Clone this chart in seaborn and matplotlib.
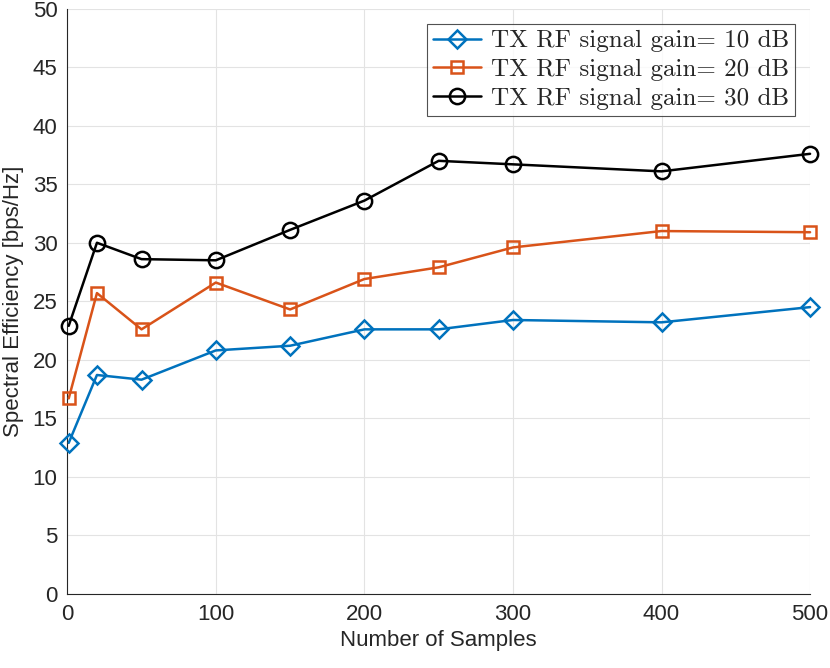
import pandas as pd
import matplotlib
matplotlib.use("Agg")
import matplotlib.pyplot as plt
import seaborn as sns

samples = [1, 20, 50, 100, 150, 200, 250, 300, 400, 500]
gain_10 = [12.9, 18.7, 18.3, 20.8, 21.2, 22.6, 22.6, 23.4, 23.2, 24.5]
gain_20 = [16.7, 25.7, 22.6, 26.6, 24.3, 26.9, 27.9, 29.6, 31.0, 30.9]
gain_30 = [22.9, 30.0, 28.6, 28.5, 31.1, 33.6, 37.0, 36.7, 36.1, 37.6]
gains = ["10", "20", "30"]

rows = []
for g, vals in zip(gains, [gain_10, gain_20, gain_30]):
    for x, y in zip(samples, vals):
        rows.append({"Samples": x, "SE": y, "Gain": g})
df = pd.DataFrame(rows)

sns.set_style("white")
plt.rcParams["font.family"] = ["Liberation Sans Narrow", "Liberation Sans", "DejaVu Sans"]

colores = {"10": "#0072BD", "20": "#D95319", "30": "#000000"}
marcadores = {"10": "D", "20": "s", "30": "o"}
tamanos = {"10": 9.5, "20": 9, "30": 11}

fig = plt.figure(figsize=(8.3, 6.68), dpi=100)
ax = fig.add_axes([0.081, 0.111, 0.895, 0.876])

sns.lineplot(data=df, x="Samples", y="SE", hue="Gain", style="Gain",
             palette=colores, markers=marcadores, dashes=False,
             linewidth=1.8, legend=False, ax=ax)

for line, g in zip(ax.lines, gains):
    line.set_markerfacecolor("none")
    line.set_markeredgecolor(colores[g])
    line.set_markeredgewidth(1.8)
    line.set_markersize(tamanos[g])
    line.set_clip_on(False)
    line.set_zorder(3)

etiquetas = ["TX RF signal gain= %s dB" % g for g in gains]
leg = ax.legend(ax.lines, etiquetas, loc="upper right",
                prop={"family": "cmr10", "size": 18},
                frameon=True, fancybox=False, borderaxespad=0.6,
                handlelength=1.9, handletextpad=0.4, borderpad=0.25,
                labelspacing=0.25)
leg.get_frame().set_edgecolor("#262626")
leg.get_frame().set_linewidth(0.8)
leg.set_zorder(5)

ax.set_xlim(0, 500)
ax.set_ylim(0, 50)
ax.set_xticks(range(0, 501, 100))
ax.set_yticks(range(0, 51, 5))
ax.grid(True, color="#e3e3e3", linewidth=0.8)
ax.set_axisbelow(True)
for s in ["top", "right"]:
    ax.spines[s].set_visible(False)
for s in ["left", "bottom"]:
    ax.spines[s].set_color("#262626")
    ax.spines[s].set_linewidth(0.8)
ax.tick_params(direction="in", length=5, width=0.8, colors="#262626",
               labelsize=16, pad=7)
ax.set_xlabel("Number of Samples", fontsize=16, color="#262626", labelpad=4)
ax.set_ylabel("Spectral Efficiency [bps/Hz]", fontsize=16, color="#262626", labelpad=6)

fig.savefig("out.png", dpi=100)
